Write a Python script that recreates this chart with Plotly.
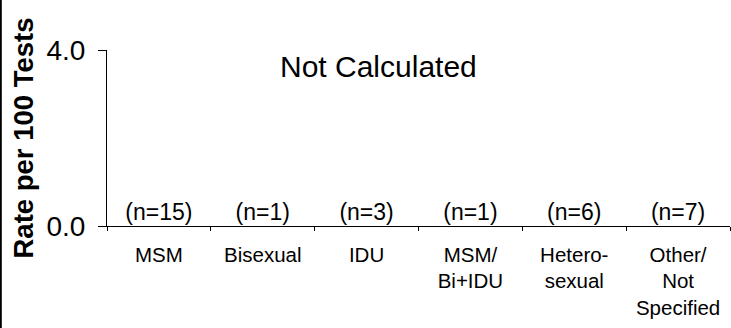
import plotly.graph_objects as go

# Transmission categories and tested counts; rates not calculated
categories = ["MSM", "Bisexual", "IDU", "MSM/<br>Bi+IDU", "Hetero-<br>sexual", "Other/<br>Not<br>Specified"]
n_tests = [15, 1, 3, 1, 6, 7]
rates = [0, 0, 0, 0, 0, 0]
y_ticks = [0, 4]
y_tick_labels = ["0.0", "4.0"]

FONT = "Arial, Liberation Sans, sans-serif"
W, H = 731, 328
ML, MR, MT, MB = 107, 1, 50, 102
PW = W - ML - MR
PH = H - MT - MB

fig = go.Figure()

fig.add_trace(go.Scatter(
    x=categories,
    y=rates,
    mode="text",
    text=[f"(n={n})" for n in n_tests],
    textposition="top center",
    textfont=dict(family=FONT, size=23, color="black"),
    hoverinfo="skip",
    showlegend=False,
))

fig.add_annotation(
    text="Not Calculated",
    xref="paper", yref="paper",
    x=(378 - ML) / PW, y=(MT + PH - 66) / PH,
    xanchor="center", yanchor="middle",
    showarrow=False,
    font=dict(family=FONT, size=30, color="black"),
)

# thin frame line on the left edge of the page
fig.add_shape(
    type="line", xref="paper", yref="paper",
    x0=(0.8 - ML) / PW, x1=(0.8 - ML) / PW,
    y0=-MB / PH, y1=1 + MT / PH,
    line=dict(color="black", width=2),
)

fig.update_layout(
    width=W, height=H,
    margin=dict(l=ML, r=MR, t=MT, b=MB, pad=0),
    paper_bgcolor="white",
    plot_bgcolor="white",
    showlegend=False,
    font=dict(family=FONT, color="black"),
)

fig.update_xaxes(
    type="category",
    tickmode="array",
    tickvals=categories,
    ticktext=categories,
    tickson="boundaries",
    ticks="outside",
    ticklen=4,
    tickcolor="black",
    tickwidth=1,
    ticklabelstandoff=10,
    showline=True,
    linecolor="black",
    linewidth=1,
    showgrid=False,
    zeroline=False,
    tickfont=dict(family=FONT, size=20.5, color="black"),
    range=[-0.5, 5.5],
    fixedrange=True,
)

fig.update_yaxes(
    range=[0, 4],
    tickmode="array",
    tickvals=y_ticks,
    ticktext=y_tick_labels,
    ticks="outside",
    ticklen=8,
    tickcolor="black",
    tickwidth=1,
    ticklabelstandoff=7,
    showline=True,
    linecolor="black",
    linewidth=1,
    showgrid=False,
    zeroline=False,
    tickfont=dict(family=FONT, size=28, color="black"),
    title=dict(text="<b>Rate per 100 Tests</b>", font=dict(family=FONT, size=27.5, color="black"), standoff=4),
    fixedrange=True,
)

fig.write_html("out.html")
